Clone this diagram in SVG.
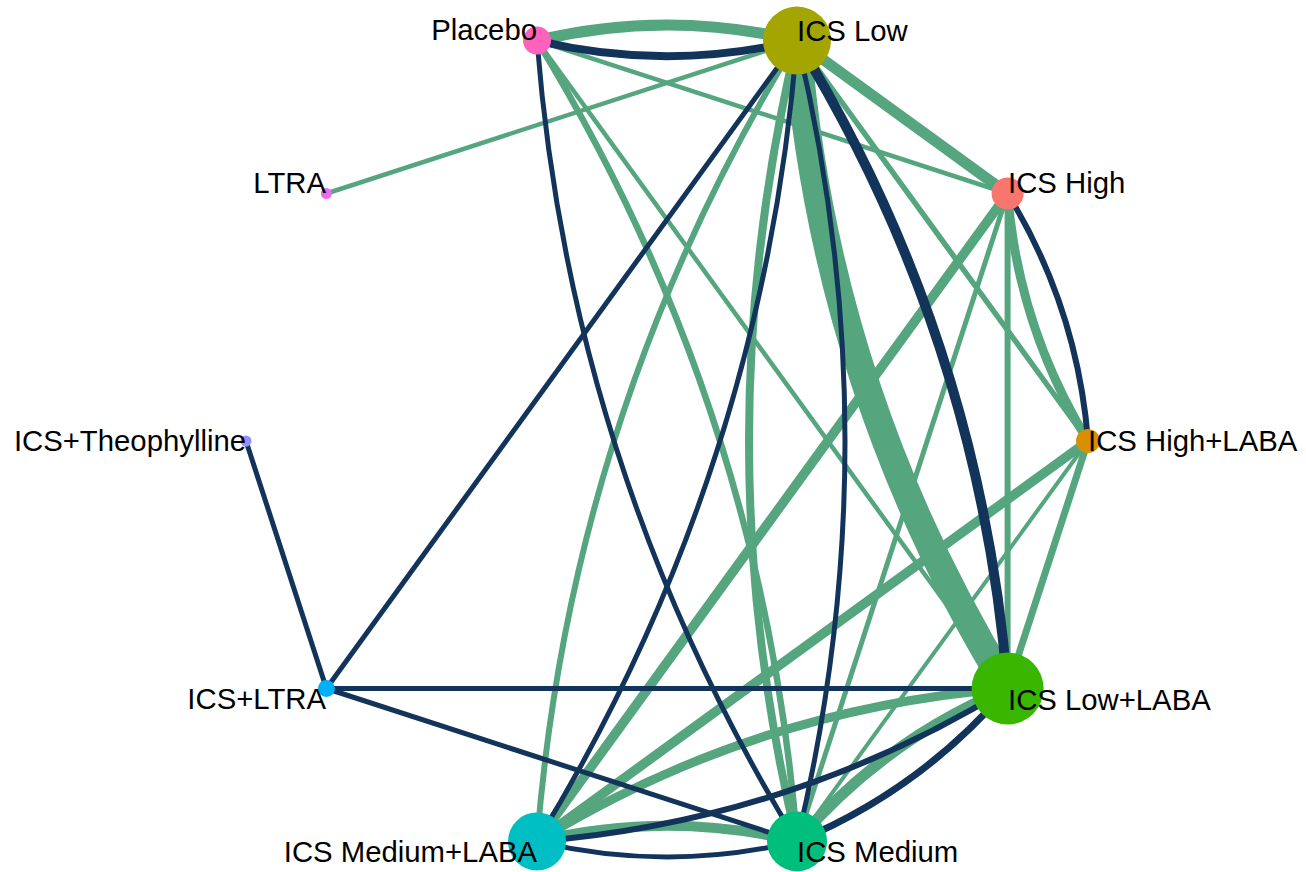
<svg xmlns="http://www.w3.org/2000/svg" width="1306" height="872" viewBox="0 0 1306 872">
<style>
.g{fill:none;stroke:#55A57F}
.n{fill:none;stroke:#13345A}
.lbl{font-family:"Liberation Sans",Arial,sans-serif;font-size:29.3px;fill:#000}
.s{text-anchor:start}
.e{text-anchor:end}
</style>
<rect width="1306" height="872" fill="#fff"/>
<g id="connectors">
<path class="g" stroke-width="11" d="M537,40.6 Q667,9.4 797,40.6"/>
<path class="g" stroke-width="4.5" d="M797,40.6 L326.4,193.5"/>
<path class="g" stroke-width="4.5" d="M537,40.6 L1007.6,193.5"/>
<path class="g" stroke-width="11" d="M797,40.6 L1007.6,193.5"/>
<path class="g" stroke-width="5.5" d="M797,40.6 L1088,441"/>
<path class="g" stroke-width="28" d="M797,40.6 Q824.5,389.8 1007.6,688.5"/>
<path class="g" stroke-width="8" d="M797,40.6 Q701,441 797,841.4"/>
<path class="g" stroke-width="6" d="M797,40.6 Q570.9,409.8 537,841.4"/>
<path class="g" stroke-width="6.5" d="M537,40.6 Q763.1,409.8 797,841.4"/>
<path class="g" stroke-width="4.5" d="M537,40.6 L1007.6,688.5"/>
<path class="g" stroke-width="9" d="M1007.6,193.5 Q1018.1,326.9 1088,441"/>
<path class="g" stroke-width="6" d="M1007.6,193.5 L1007.6,688.5"/>
<path class="g" stroke-width="9.5" d="M1007.6,193.5 L537,841.4"/>
<path class="g" stroke-width="5" d="M1007.6,193.5 L797,841.4"/>
<path class="g" stroke-width="9.5" d="M1088,441 L537,841.4"/>
<path class="g" stroke-width="7" d="M1088,441 L1007.6,688.5"/>
<path class="g" stroke-width="4" d="M1088,441 L797,841.4"/>
<path class="g" stroke-width="9" d="M1007.6,688.5 Q754,708.5 537,841.4"/>
<path class="g" stroke-width="11" d="M1007.6,688.5 Q884,739.7 797,841.4"/>
<path class="g" stroke-width="10" d="M537,841.4 Q667,810.2 797,841.4"/>
<path class="n" stroke-width="8" d="M537,40.6 Q667,71.8 797,40.6"/>
<path class="n" stroke-width="5" d="M537,40.6 Q570.9,472.2 797,841.4"/>
<path class="n" stroke-width="5" d="M797,40.6 Q763.1,472.2 537,841.4"/>
<path class="n" stroke-width="5" d="M797,40.6 Q893,441 797,841.4"/>
<path class="n" stroke-width="10" d="M797,40.6 Q980.1,339.3 1007.6,688.5"/>
<path class="n" stroke-width="5" d="M797,40.6 L326.4,688.5"/>
<path class="n" stroke-width="6" d="M1007.6,193.5 Q1077.5,307.6 1088,441"/>
<path class="n" stroke-width="5" d="M326.4,688.5 L246,441"/>
<path class="n" stroke-width="5" d="M326.4,688.5 L1007.6,688.5"/>
<path class="n" stroke-width="5" d="M326.4,688.5 L797,841.4"/>
<path class="n" stroke-width="6" d="M1007.6,688.5 Q790.7,821.4 537,841.4"/>
<path class="n" stroke-width="7" d="M1007.6,688.5 Q920.6,790.2 797,841.4"/>
<path class="n" stroke-width="5" d="M537,841.4 Q667,872.6 797,841.4"/>
</g>
<g id="node-placebo"><circle cx="537" cy="40.6" r="14" fill="#FF62BC"/><text class="lbl e" x="537" y="40">Placebo</text></g>
<g id="node-ics-low"><circle cx="797" cy="40.6" r="34" fill="#A3A500"/><text class="lbl s" x="797" y="41">ICS Low</text></g>
<g id="node-ics-high"><circle cx="1007.6" cy="193.5" r="16" fill="#F8766D"/><text class="lbl s" x="1008" y="193">ICS High</text></g>
<g id="node-ics-high-laba"><circle cx="1088" cy="441" r="12" fill="#D89000"/><text class="lbl s" x="1088" y="451">ICS High+LABA</text></g>
<g id="node-ics-low-laba"><circle cx="1007.6" cy="688.5" r="36" fill="#39B600"/><text class="lbl s" x="1008" y="710">ICS Low+LABA</text></g>
<g id="node-ics-medium"><circle cx="797" cy="841.4" r="30" fill="#00BF7D"/><text class="lbl s" x="797" y="862">ICS Medium</text></g>
<g id="node-ics-medium-laba"><circle cx="537" cy="841.4" r="29" fill="#00BFC4"/><text class="lbl e" x="537" y="862">ICS Medium+LABA</text></g>
<g id="node-ics-ltra"><circle cx="326.4" cy="688.5" r="8.5" fill="#00B0F6"/><text class="lbl e" x="326" y="709">ICS+LTRA</text></g>
<g id="node-ics-theophylline"><circle cx="246" cy="441" r="5.5" fill="#9590FF"/><text class="lbl e" x="246" y="451">ICS+Theophylline</text></g>
<g id="node-ltra"><circle cx="326.4" cy="193.5" r="5.5" fill="#E76BF3"/><text class="lbl e" x="326" y="193">LTRA</text></g>
</svg>
